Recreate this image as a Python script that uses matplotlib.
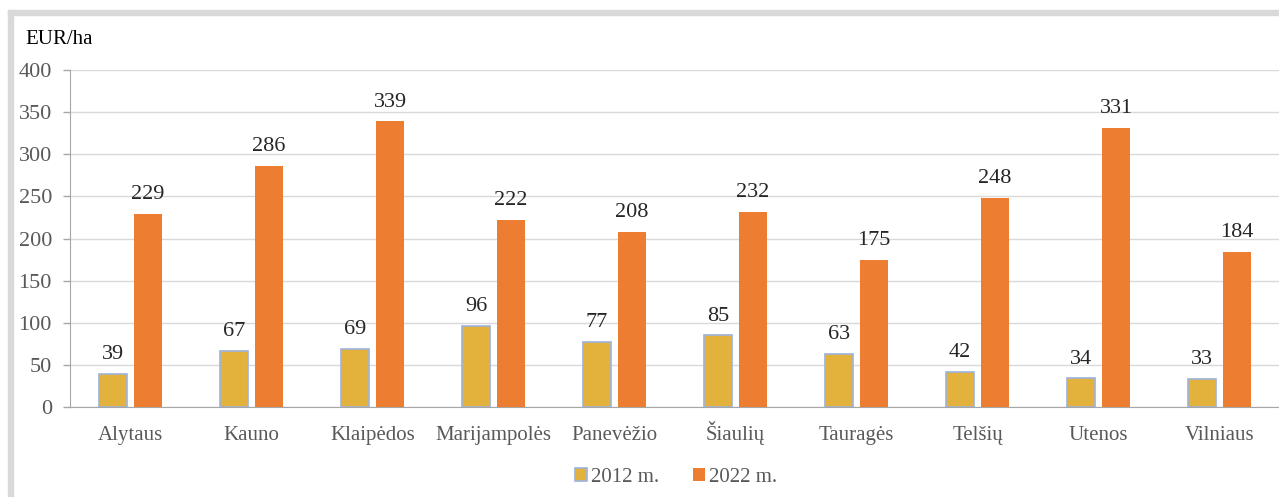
import matplotlib.pyplot as plt
import numpy as np
from matplotlib.patches import Rectangle

regions = ['Alytaus', 'Kauno', 'Klaipėdos', 'Marijampolės', 'Panevėžio',
           'Šiaulių', 'Tauragės', 'Telšių', 'Utenos', 'Vilniaus']
v2012 = [39, 67, 69, 96, 77, 85, 63, 42, 34, 33]
v2022 = [229, 286, 339, 222, 208, 232, 175, 248, 331, 184]
yticks = [0, 50, 100, 150, 200, 250, 300, 350, 400]

plt.rcParams['font.family'] = ['Liberation Serif', 'DejaVu Serif']

W, H = 1279, 497
fig = plt.figure(figsize=(W / 100, H / 100), dpi=100)
ax = fig.add_axes([70 / W, 1 - 407 / H, 1210 / W, 337 / H])

# grey outer frame (top and left edges only visible)
fig.patches.append(Rectangle((8 / W, 0), 5 / W, 1 - 10 / H, transform=fig.transFigure,
                             color='#d9d9d9', zorder=0))
fig.patches.append(Rectangle((8 / W, 1 - 15 / H), 1, 5 / H, transform=fig.transFigure,
                             color='#d9d9d9', zorder=0))

x = np.arange(len(regions))
w = 0.23
off = 0.145
b1 = ax.bar(x - off, v2012, w, color='#e3b23c', edgecolor='#9db3dc', linewidth=1.2,
            label='2012 m.', zorder=3)
b2 = ax.bar(x + off, v2022, w, color='#ed7d31', label='2022 m.', zorder=3)

for bars, vals in ((b1, v2012), (b2, v2022)):
    for r, v in zip(bars, vals):
        ax.annotate(str(v), (r.get_x() + r.get_width() / 2, v), xytext=(0, 7),
                    textcoords='offset points', ha='center', va='bottom',
                    fontsize=16, color='#262626')

ax.set_xlim(-0.5, len(regions) - 0.5)
ax.set_ylim(0, 400)
ax.set_yticks(yticks)
ax.set_xticks(x)
ax.set_xticklabels(regions, fontsize=15, color='#595959', va='baseline')
ax.tick_params(axis='y', labelsize=16, labelcolor='#595959', color='#a6a6a6',
               length=5, width=1, pad=8)
ax.tick_params(axis='x', length=0, pad=24)
ax.grid(axis='y', color='#d9d9d9', linewidth=1, zorder=0)
for s in ('top', 'right'):
    ax.spines[s].set_visible(False)
ax.spines['left'].set_color('#a6a6a6')
ax.spines['bottom'].set_color('#a6a6a6')

fig.text(25 / W, 1 - 40 / H, 'EUR/ha', fontsize=15, color='#000000', va='center')

fig.legend(handles=[b1, b2], loc='center', bbox_to_anchor=(676 / W, 1 - 477 / H),
           ncol=2, frameon=False, fontsize=15, labelcolor='#595959',
           handlelength=0.6, handleheight=0.6, handletextpad=0.2, columnspacing=1.6)

fig.savefig('out.png', dpi=100)
